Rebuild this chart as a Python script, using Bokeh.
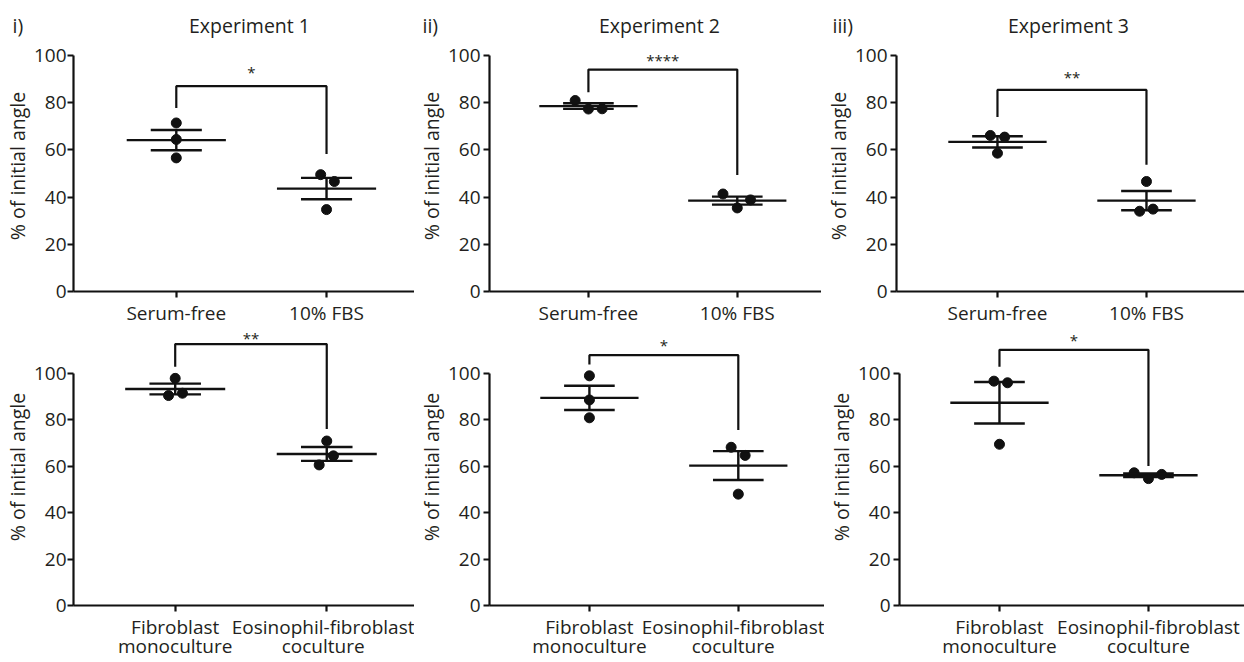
import math
import numpy as np
from bokeh.plotting import figure
from bokeh.layouts import row, column
from bokeh.models import FixedTicker, ColumnDataSource, Range1d
from bokeh.core.properties import value
from bokeh.embed import file_html
from bokeh.resources import INLINE

# ---------------- data ----------------
TOP_CATEGORIES = ["Serum-free", "10% FBS"]
BOTTOM_CATEGORIES = ["Fibroblast\nmonoculture", "Eosinophil-fibroblast\ncoculture"]
EXPERIMENTS = ["Experiment 1", "Experiment 2", "Experiment 3"]
PANEL_TAGS = ["i)", "ii)", "iii)"]
Y_TICKS = [0, 20, 40, 60, 80, 100]
Y_LABEL = "% of initial angle"

EXP1_SERUM_FREE = [71.4, 64.4, 56.6]
EXP1_FBS = [49.5, 46.6, 34.7]
EXP2_SERUM_FREE = [80.9, 77.3, 77.4]
EXP2_FBS = [41.3, 38.8, 35.4]
EXP3_SERUM_FREE = [66.1, 65.4, 58.6]
EXP3_FBS = [46.6, 34.0, 34.9]

EXP1_MONO = [97.9, 90.5, 91.5]
EXP1_COCULTURE = [70.9, 64.5, 60.6]
EXP2_MONO = [99.0, 88.6, 80.9]
EXP2_COCULTURE = [68.2, 64.7, 48.0]
EXP3_MONO = [96.7, 96.0, 69.5]
EXP3_COCULTURE = [57.2, 54.7, 56.5]

TOP_SIGNIF = ["*", "****", "**"]
BOTTOM_SIGNIF = ["**", "*", "*"]
TOP_BRACKET_TOP = [87.0, 94.0, 85.4]
TOP_BRACKET_LEFT_END = [77.7, 84.4, 73.9]
TOP_BRACKET_RIGHT_END = [58.2, 49.4, 53.7]
TOP_STAR_Y = [93.3, 98.3, 91.2]
BOTTOM_BRACKET_TOP = [112.7, 107.9, 110.2]
BOTTOM_BRACKET_LEFT_END = [102.9, 103.9, 102.9]
BOTTOM_BRACKET_RIGHT_END = [76.1, 75.7, 60.1]
BOTTOM_STAR_Y = [115.7, 112.9, 115.0]

# ---------------- layout / style ----------------
UNIT_PX = 152.0
TEXT = "#231f20"
INK = "#111111"
FONT = "Open Sans"
MEAN_HALF = 0.33
CAP_HALF = 0.17

TOP_JITTER = [([0, 0, 0], [-0.039, 0.052, 0]),
              ([-0.089, 0, 0.092], [-0.096, 0.089, 0]),
              ([-0.048, 0.048, 0], [0, -0.046, 0.044])]
BOTTOM_JITTER = [([0, -0.044, 0.048], [0, 0.044, -0.05]),
                 ([0, 0, 0], [-0.048, 0.046, 0]),
                 ([-0.037, 0.054, 0], [-0.096, 0, 0.089])]

HEADER_H = 40
HEADER_BASELINE = 25
TOP_WIDTHS = [414, 407, 423]
TOP_BORDERS = [69, 68, 68]
TOP_CAT0 = [104, 101, 103]
BOTTOM_WIDTHS = [414, 410, 420]
BOTTOM_BORDERS = [72, 68, 68]
BOTTOM_CAT0 = [102, 102, 102]
Y_TICK_STANDOFF = [1, 3, 3]
TOP_HEIGHT, TOP_BOTTOM, TOP_Y100 = 288, 36, 15
BOTTOM_HEIGHT, BOTTOM_BOTTOM, BOTTOM_Y100 = 334, 57, 45
TAG_X = [12, 422, 832]


def mean_sem(vals):
    a = np.array(vals, dtype=float)
    return a.mean(), a.std(ddof=1) / math.sqrt(len(a))


def make_panel(i, width, groups, jitters, cats, border_left, cat0_off, height, border_bottom,
               y100_px, br_top, br_l, br_r, star_y, signif, two_line=False):
    frame_w = width - border_left
    frame_h = height - border_bottom
    x0 = -cat0_off / UNIT_PX
    x1 = x0 + frame_w / UNIT_PX
    px_per_unit = (frame_h - y100_px) / 100.0
    y1 = frame_h / px_per_unit
    p = figure(width=width, height=height, x_range=(x0, x1), y_range=(0, y1),
               output_backend="svg", toolbar_location=None,
               min_border_left=border_left, min_border_right=0,
               min_border_top=0, min_border_bottom=border_bottom)
    p.outline_line_color = None
    p.grid.visible = False

    for ax in (p.xaxis[0], p.yaxis[0]):
        ax.axis_line_width = 2.2
        ax.axis_line_color = INK
        ax.major_tick_line_width = 2.2
        ax.major_tick_line_color = INK
        ax.major_tick_in = 0
        ax.major_tick_out = 6
        ax.minor_tick_line_color = None
        ax.major_label_text_font = FONT
        ax.major_label_text_font_size = "19px"
        ax.major_label_text_color = TEXT
    p.yaxis.ticker = FixedTicker(ticks=Y_TICKS)
    p.yaxis.bounds = (0, 100)
    p.yaxis.major_label_standoff = Y_TICK_STANDOFF[i]
    p.yaxis.axis_label = Y_LABEL
    p.yaxis.axis_label_text_font = FONT
    p.yaxis.axis_label_text_font_size = "19.5px"
    p.yaxis.axis_label_text_font_style = "normal"
    p.yaxis.axis_label_text_color = TEXT
    p.yaxis.axis_label_standoff = 0
    p.xaxis.ticker = FixedTicker(ticks=[0, 1])
    p.xaxis.major_label_overrides = {0: cats[0], 1: cats[1]}
    p.xaxis.major_label_standoff = 2
    if two_line:
        p.xaxis.major_label_text_line_height = 0.75

    for c, (vals, jit) in enumerate(zip(groups, jitters)):
        m, s = mean_sem(vals)
        src = ColumnDataSource(dict(x=[c + j for j in jit], y=vals))
        p.scatter("x", "y", source=src, size=10, color=INK)
        p.segment(x0=[c - MEAN_HALF, c - CAP_HALF, c - CAP_HALF, c],
                  y0=[m, m + s, m - s, m - s],
                  x1=[c + MEAN_HALF, c + CAP_HALF, c + CAP_HALF, c],
                  y1=[m, m + s, m - s, m + s],
                  line_color=INK, line_width=2.4)

    p.line(x=[0, 0, 1, 1], y=[br_l, br_top, br_top, br_r], line_color=INK, line_width=2.2)
    p.text(x=[0.5], y=[star_y], text=[signif], text_align="center",
           text_baseline="alphabetic", y_offset=1, text_font=value(FONT),
           text_font_size="15px", text_color=TEXT)
    return p


# header with panel tags and experiment titles
header = figure(width=1244, height=HEADER_H, x_range=(0, 1244), y_range=Range1d(HEADER_H, 0),
                output_backend="svg", toolbar_location=None, min_border=0,
                x_axis_type=None, y_axis_type=None)
header.grid.visible = False
header.outline_line_color = None
title_x = []
left = 0
for i in range(3):
    title_x.append(left + TOP_BORDERS[i] + TOP_CAT0[i] + 0.5 * UNIT_PX)
    left += TOP_WIDTHS[i]
header.text(x=TAG_X, y=[HEADER_BASELINE] * 3, text=PANEL_TAGS, text_align="left",
            text_baseline="alphabetic", text_font=value(FONT), text_font_size="19.5px",
            text_color=TEXT)
header.text(x=title_x, y=[HEADER_BASELINE] * 3, text=EXPERIMENTS, text_align="center",
            text_baseline="alphabetic", text_font=value(FONT), text_font_size="19.5px",
            text_color=TEXT)

top_groups = [(EXP1_SERUM_FREE, EXP1_FBS), (EXP2_SERUM_FREE, EXP2_FBS), (EXP3_SERUM_FREE, EXP3_FBS)]
bottom_groups = [(EXP1_MONO, EXP1_COCULTURE), (EXP2_MONO, EXP2_COCULTURE), (EXP3_MONO, EXP3_COCULTURE)]

top = []
bottom = []
for i in range(3):
    top.append(make_panel(i, TOP_WIDTHS[i], top_groups[i], TOP_JITTER[i], TOP_CATEGORIES,
                          TOP_BORDERS[i], TOP_CAT0[i], TOP_HEIGHT, TOP_BOTTOM, TOP_Y100,
                          TOP_BRACKET_TOP[i], TOP_BRACKET_LEFT_END[i],
                          TOP_BRACKET_RIGHT_END[i], TOP_STAR_Y[i], TOP_SIGNIF[i]))
    bottom.append(make_panel(i, BOTTOM_WIDTHS[i], bottom_groups[i], BOTTOM_JITTER[i],
                             BOTTOM_CATEGORIES, BOTTOM_BORDERS[i], BOTTOM_CAT0[i],
                             BOTTOM_HEIGHT, BOTTOM_BOTTOM, BOTTOM_Y100, BOTTOM_BRACKET_TOP[i],
                             BOTTOM_BRACKET_LEFT_END[i], BOTTOM_BRACKET_RIGHT_END[i],
                             BOTTOM_STAR_Y[i], BOTTOM_SIGNIF[i], two_line=True))

layout = column(header, row(*top, spacing=0), row(*bottom, spacing=0), spacing=0)
open("out.html", "w").write(file_html(layout, INLINE))
